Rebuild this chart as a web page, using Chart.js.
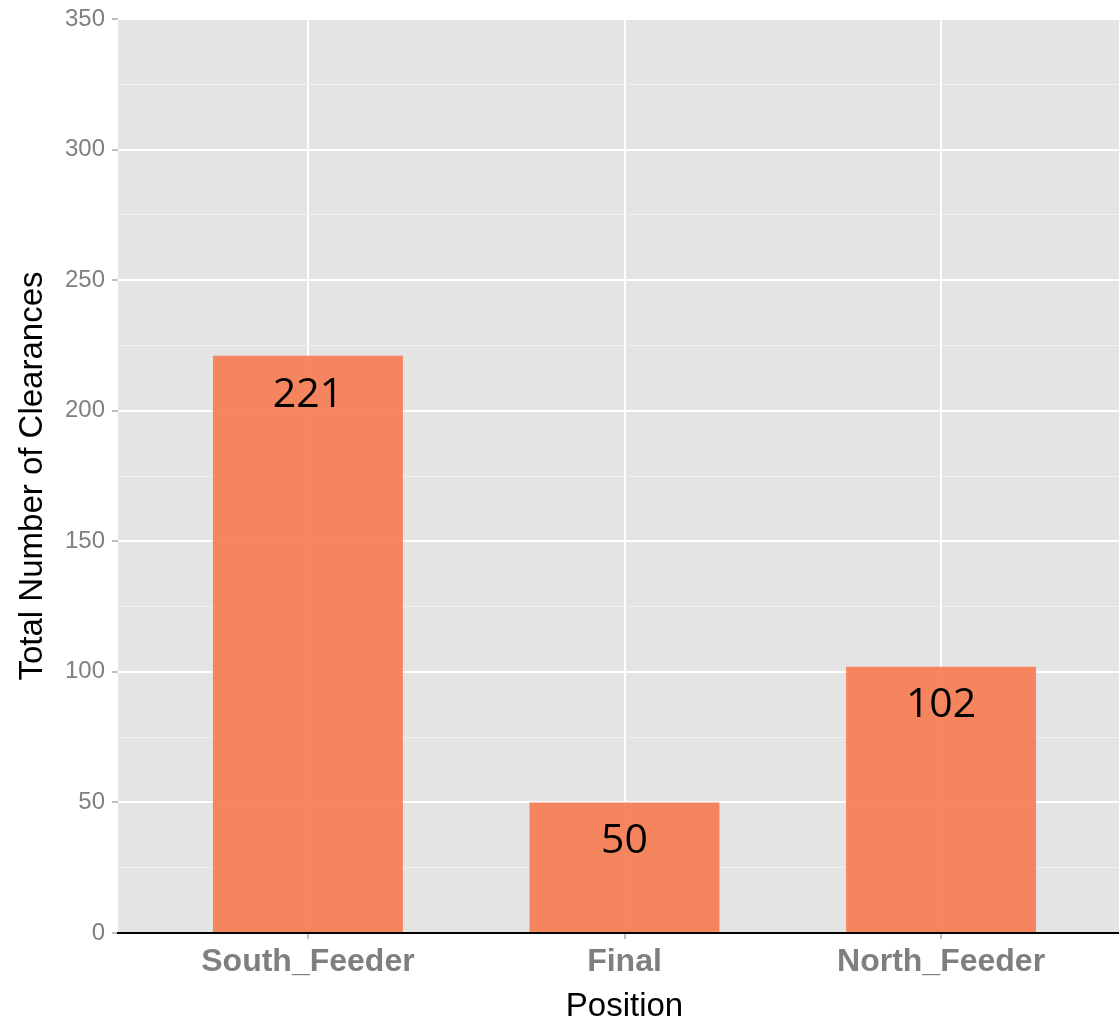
<!DOCTYPE html>
<html>
<head>
<meta charset="utf-8">
<script src="https://cdn.jsdelivr.net/npm/chart.js@4.4.1/dist/chart.umd.min.js"></script>
<style>
  html, body { margin: 0; padding: 0; background: #fff; overflow: hidden; }
  #chart { display: block; }
</style>
</head>
<body>
<canvas id="chart" width="1131" height="1023"></canvas>
<script>
// Valores do gráfico
const positions = ['South_Feeder', 'Final', 'North_Feeder'];
const clearances = [221, 50, 102];
const yTicks = [0, 50, 100, 150, 200, 250, 300, 350];

// Fundo cinza do painel (estilo ggplot)
const panelBackground = {
    id: 'panelBackground',
    beforeDraw(chart) {
        const { ctx, chartArea } = chart;
        ctx.save();
        ctx.fillStyle = '#E4E4E4';
        ctx.fillRect(chartArea.left, chartArea.top, chartArea.right - chartArea.left, chartArea.bottom - chartArea.top);
        ctx.restore();
    }
};

// Rótulos de valor dentro das barras
const barLabels = {
    id: 'barLabels',
    afterDatasetsDraw(chart) {
        const { ctx } = chart;
        const meta = chart.getDatasetMeta(0);
        ctx.save();
        ctx.fillStyle = '#000';
        ctx.font = '41px "Open Sans", sans-serif';
        ctx.textAlign = 'center';
        ctx.textBaseline = 'middle';
        meta.data.forEach((bar, i) => {
            ctx.fillText(String(clearances[i]), bar.x, bar.y + 39);
        });
        ctx.restore();
    }
};

const isMajor = (v) => v % 50 === 0;

new Chart(document.getElementById('chart'), {
    type: 'bar',
    data: {
        datasets: [{
            data: clearances.map((v, i) => ({ x: i, y: v })),
            backgroundColor: 'rgba(246,122,79,0.9)',
            borderWidth: 0,
            barPercentage: 0.6,
            categoryPercentage: 1
        }]
    },
    options: {
        responsive: false,
        animation: false,
        layout: { padding: { top: 15, left: 0, right: 0, bottom: 0 } },
        plugins: {
            legend: { display: false },
            tooltip: { enabled: false }
        },
        scales: {
            x: {
                type: 'linear',
                min: -0.6,
                max: 2.6,
                offset: false,
                afterBuildTicks(scale) {
                    scale.ticks = positions.map((_, i) => ({ value: i }));
                },
                afterFit(scale) { scale.height = 90; },
                grid: {
                    offset: false,
                    color: '#FFFFFF',
                    lineWidth: 2,
                    tickLength: 6,
                    tickColor: '#7f7f7f',
                    tickWidth: 1
                },
                border: { display: true, color: '#000', width: 2 },
                ticks: {
                    color: '#7f7f7f',
                    font: { family: '"Liberation Sans", Arial, sans-serif', size: 32, weight: 'bold' },
                    padding: 4,
                    maxRotation: 0,
                    callback: (v) => positions[v]
                },
                title: {
                    display: true,
                    text: 'Position',
                    color: '#000',
                    font: { family: '"Liberation Sans", Arial, sans-serif', size: 33, lineHeight: 1 },
                    padding: { top: 0, bottom: 0 }
                }
            },
            y: {
                min: 0,
                max: 350,
                afterFit(scale) { scale.width = 118; },
                grid: {
                    color: (c) => isMajor(c.tick.value) ? '#FFFFFF' : '#F1F1F1',
                    lineWidth: (c) => isMajor(c.tick.value) ? 2 : 1,
                    tickLength: 6,
                    tickColor: (c) => isMajor(c.tick.value) ? '#7f7f7f' : 'rgba(0,0,0,0)',
                    tickWidth: 1
                },
                border: { display: false },
                ticks: {
                    stepSize: 25,
                    color: '#7f7f7f',
                    font: { family: '"Liberation Sans", Arial, sans-serif', size: 24, lineHeight: 1 },
                    padding: 7,
                    callback: (v) => yTicks.includes(v) ? String(v) : ''
                },
                title: {
                    display: true,
                    text: 'Total Number of Clearances',
                    color: '#000',
                    font: { family: '"Liberation Sans", Arial, sans-serif', size: 33 },
                    padding: { top: 13, bottom: 0 }
                }
            }
        }
    },
    plugins: [panelBackground, barLabels]
});
</script>
</body>
</html>
